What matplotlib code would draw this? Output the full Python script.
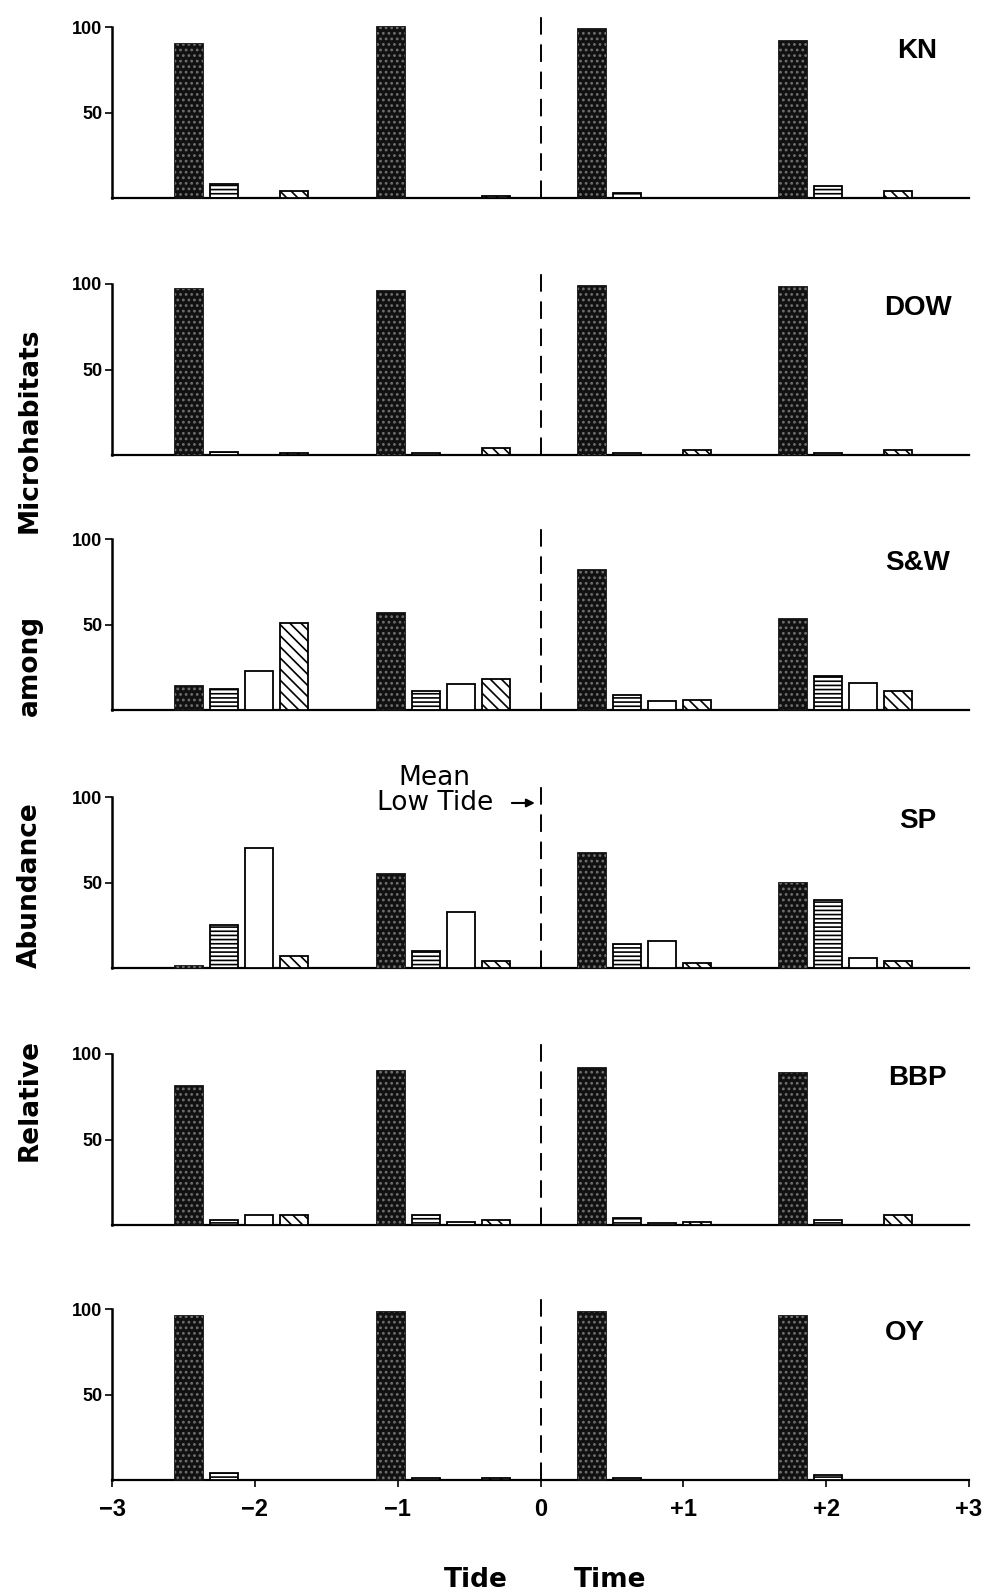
import numpy as np
import matplotlib.pyplot as plt

# relative abundance (%) per site; rows = tide group, cols = microhabitat
sites = ["KN", "DOW", "S&W", "SP", "BBP", "OY"]
kn = [[90, 8, 0, 4], [100, 0, 0, 1], [99, 3, 0, 0], [92, 7, 0, 4]]
dow = [[97, 2, 0, 1], [96, 1, 0, 4], [99, 1, 0, 3], [98, 1, 0, 3]]
sw = [[14, 12, 23, 51], [57, 11, 15, 18], [82, 9, 5, 6], [53, 20, 16, 11]]
sp = [[1, 25, 70, 7], [55, 10, 33, 4], [67, 14, 16, 3], [50, 40, 6, 4]]
bbp = [[81, 3, 6, 6], [90, 6, 2, 3], [92, 4, 1, 2], [89, 3, 0, 6]]
oy = [[96, 4, 0, 0], [98, 1, 0, 1], [98, 1, 0, 0], [96, 3, 0, 0]]
site_data = [kn, dow, sw, sp, bbp, oy]

xticks = [-3, -2, -1, 0, 1, 2, 3]
xticklabels = ["\u22123", "\u22122", "\u22121", "0", "+1", "+2", "+3"]

# layout
group_x = np.array([-2.46, -1.05, 0.36, 1.77])
bar_step = 0.245
bar_w = 0.196

plt.rcParams['hatch.linewidth'] = 1.2

fig = plt.figure(figsize=(9.99, 15.96), dpi=100)
bases = [198, 455, 710, 968, 1225, 1480]
left = 112 / 999
width = 857 / 999
height = 171 / 1596

styles = [
    dict(facecolor="#111111", edgecolor="#111111"),
    dict(facecolor="white", edgecolor="black", hatch="----"),
    dict(facecolor="white", edgecolor="black"),
    dict(facecolor="white", edgecolor="black", hatch="\\\\\\"),
]

axes = []
for i, (name, vals) in enumerate(zip(sites, site_data)):
    ax = fig.add_axes([left, 1 - bases[i] / 1596, width, height])
    axes.append(ax)
    ax.set_xlim(-3, 3)
    ax.set_ylim(0, 100)
    for g, row in enumerate(vals):
        for k, v in enumerate(row):
            if v <= 0:
                continue
            x = group_x[g] + k * bar_step
            ax.bar(x, v, width=bar_w, linewidth=1.3, clip_on=False, zorder=3, **styles[k])
            if k == 0:
                # speckle on the dark bars
                ax.bar(x, v, width=bar_w, facecolor="none", edgecolor="#707070",
                       hatch="...", linewidth=0, clip_on=False, zorder=4)
    ax.axvline(0, ymin=0, ymax=1.1, color="black", lw=1.4,
               linestyle=(0, (9, 5)), clip_on=False, zorder=2)
    ax.spines["top"].set_visible(False)
    ax.spines["right"].set_visible(False)
    ax.spines["left"].set_linewidth(1.8)
    ax.spines["bottom"].set_linewidth(1.6)
    ax.set_yticks([50, 100])
    ax.set_yticklabels(["50", "100"], fontsize=13, fontweight="bold",
                       family="Liberation Sans")
    ax.tick_params(axis="y", length=5, width=1.2, pad=2)
    ax.set_xticks(xticks)
    if i < len(sites) - 1:
        ax.tick_params(axis="x", length=0, labelbottom=False)
    else:
        ax.set_xticklabels(xticklabels, fontsize=17, fontweight="bold",
                           family="Liberation Sans")
        ax.tick_params(axis="x", length=5, width=1.2, pad=8)
    lx = 2.55 if name == "OY" else 2.64
    ax.text(lx, 86, name, ha="center", va="center", fontsize=20,
            fontweight="bold", family="Liberation Sans")

# mean low tide note on SP panel
ax_sp = axes[3]
ax_sp.text(-0.74, 104, "Mean\nLow Tide", ha="center", va="center",
           fontsize=19, linespacing=0.95, clip_on=False)
ax_sp.annotate("", xy=(-0.02, 96.5), xytext=(-0.22, 96.5),
               arrowprops=dict(arrowstyle="-|>", color="black", lw=1.5,
                               mutation_scale=12),
               annotation_clip=False)

# y label, word by word
for word, yc in [("Relative", 1100), ("Abundance", 885), ("among", 665),
                 ("Microhabitats", 430)]:
    fig.text(30 / 999, 1 - yc / 1596, word, rotation=90, ha="center",
             va="center", fontsize=19, fontweight="bold")

# x label
for word, xc in [("Tide", 476), ("Time", 610)]:
    fig.text(xc / 999, 1 - 1580 / 1596, word, ha="center", va="center",
             fontsize=19, fontweight="bold")

plt.savefig("out.png", dpi=100)
